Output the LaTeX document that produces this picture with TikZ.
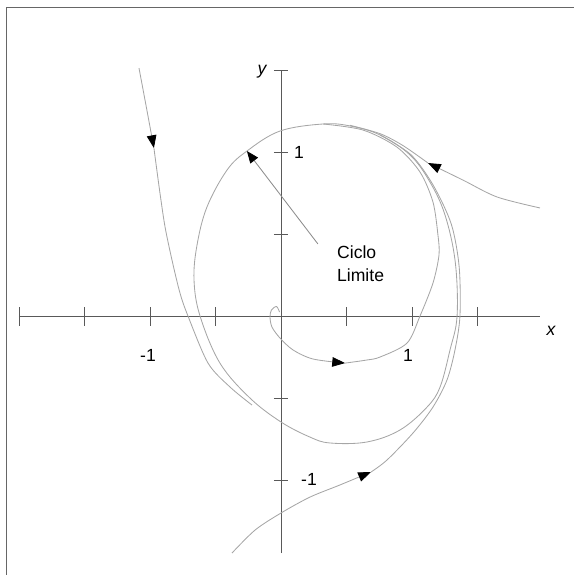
\documentclass[tikz,border=0pt]{standalone}
\usepackage{fontspec}
\setmainfont{Liberation Sans}
\usepackage{tikz}
\usetikzlibrary{arrows.meta}

\begin{document}
\begin{tikzpicture}[x=3.275cm, y=4.1cm]
  \tikzset{
    frm/.style={draw=black!60, line width=0.7pt},
    axisln/.style={draw=black!65, line width=0.7pt},
    orbit/.style={draw=black!35, line width=0.6pt},
    flow/.style={-{Triangle[length=0.32cm, width=0.24cm, color=black]}},
    ptr/.style={draw=black!45, line width=0.6pt, -{Triangle[length=0.3cm, width=0.24cm, color=black]}},
    num/.style={font=\fontsize{12.5}{16.3}\selectfont, inner sep=1pt},
    axlbl/.style={font=\fontsize{12.5}{14}\selectfont\itshape, inner sep=1pt}
  }
  \useasboundingbox (-2.145,-1.579) rectangle (2.237,1.927);

  % - Frame ---
  \draw[frm] (-2.092,-1.579) -- (-2.092,1.884) -- (2.237,1.884);

  % - Axes ---
  \draw[axisln] (-2,0) -- (1.98,0);
  \draw[axisln] (0,-1.445) -- (0,1.5);
  \draw[axisln] (-2,-0.058) -- (-2,0.058) (-1.5,-0.058) -- (-1.5,0.058)
    (-1,-0.058) -- (-1,0.058) (-0.5,-0.058) -- (-0.5,0.058)
    (0.5,-0.058) -- (0.5,0.058) (1,-0.058) -- (1,0.058) (1.5,-0.058) -- (1.5,0.058);
  \draw[axisln] (-0.055,1.5) -- (0.055,1.5) (-0.055,1) -- (0.055,1)
    (-0.055,0.5) -- (0.055,0.5) (-0.055,-0.5) -- (0.055,-0.5) (-0.055,-1) -- (0.055,-1);

  \node[axlbl] (xlab) at (2.061,-0.091) {x};
  \node[axlbl] (ylab) at (-0.145,1.488) {y};
  \node[num] (xm1) at (-1.015,-0.238) {-1};
  \node[num] (xp1) at (0.97,-0.238) {1};
  \node[num] (yp1) at (0.137,1.0) {1};
  \node[num] (ym1) at (0.214,-0.994) {-1};

  % - Limit cycle ---
  \draw[orbit] plot[smooth cycle, tension=0.6] coordinates {
    (0.321,1.171) (-0.008,1.128) (-0.260,1.006) (-0.412,0.890) (-0.565,0.665)
    (-0.641,0.433) (-0.664,0.220) (-0.618,0.0) (-0.466,-0.287) (-0.237,-0.500)
    (0.0,-0.646) (0.221,-0.738) (0.374,-0.774) (0.656,-0.768) (0.908,-0.695)
    (1.115,-0.555) (1.214,-0.433) (1.290,-0.207) (1.344,0.0) (1.330,0.330)
    (1.252,0.616) (1.137,0.817) (0.985,0.982) (0.756,1.104) (0.527,1.159)};

  % - Trajectory from upper left ---
  \draw[orbit, flow] plot[smooth] coordinates {(-1.084,1.512) (-1.031,1.287) (-0.970,1.024)};
  \draw[orbit] plot[smooth] coordinates {
    (-0.970,1.024) (-0.924,0.750) (-0.885,0.543) (-0.832,0.341) (-0.771,0.140)
    (-0.710,0.0) (-0.557,-0.287) (-0.389,-0.433) (-0.221,-0.543)};

  % - Spiral from the origin ---
  \draw[orbit, flow] plot[smooth] coordinates {
    (-0.011,0.024) (-0.034,0.058) (-0.073,0.037) (-0.084,-0.006) (-0.069,-0.067)
    (-0.008,-0.134) (0.092,-0.207) (0.244,-0.262) (0.489,-0.287)};
  \draw[orbit] plot[smooth] coordinates {
    (0.489,-0.287) (0.656,-0.268) (0.756,-0.250) (0.962,-0.165) (1.061,0.0)
    (1.160,0.201) (1.206,0.372) (1.198,0.494) (1.160,0.695) (1.061,0.878)
    (0.885,1.030) (0.626,1.134) (0.321,1.171)};

  % - Trajectory from below ---
  \draw[orbit, flow] plot[smooth] coordinates {
    (-0.374,-1.445) (-0.198,-1.305) (0.0,-1.201) (0.221,-1.104) (0.450,-1.030) (0.687,-0.951)};
  \draw[orbit] plot[smooth] coordinates {
    (0.687,-0.951) (0.809,-0.878) (1.008,-0.713) (1.160,-0.555) (1.267,-0.390)
    (1.328,-0.207) (1.366,0.0) (1.360,0.300) (1.300,0.560) (1.160,0.800)
    (0.990,0.985) (0.756,1.104)};

  % - Trajectory from the right ---
  \draw[orbit, flow] plot[smooth] coordinates {(1.977,0.659) (1.649,0.726) (1.389,0.829) (1.122,0.933)};
  \draw[orbit] plot[smooth] coordinates {(1.122,0.933) (0.930,1.040) (0.756,1.112) (0.527,1.163)};

  % - Label ---
  \coordinate (cyc) at (-0.260,1.006);
  \node[num, anchor=west, align=left] (lbl) at (0.416,0.32) {Ciclo\\Limite};
  \draw[ptr] ([xshift=-0.44cm]lbl.north west) -- (cyc);

\end{tikzpicture}
\end{document}
